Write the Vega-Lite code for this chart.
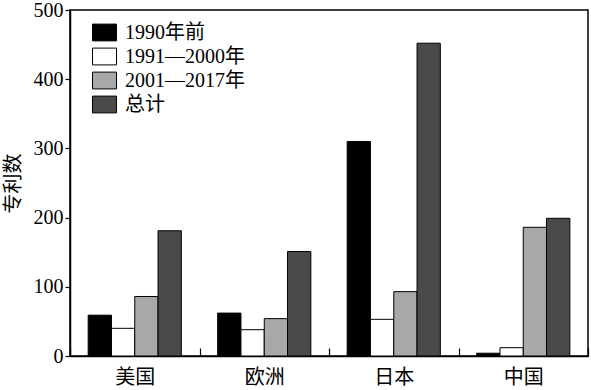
{
  "$schema": "https://vega.github.io/schema/vega-lite/v6.json",
  "autosize": {"type": "none"},
  "padding": {"left": 70, "top": 10, "right": 3, "bottom": 34},
  "width": 518,
  "height": 346,
  "background": "white",
  "config": {
    "view": {"stroke": "black", "strokeWidth": 1.5},
    "font": "Liberation Serif, Noto Sans CJK SC",
    "axis": {
      "labelFont": "Liberation Serif, Noto Sans CJK SC",
      "titleFont": "Liberation Serif, Noto Sans CJK SC",
      "labelColor": "black",
      "titleColor": "black",
      "domainColor": "black",
      "tickColor": "black",
      "domainWidth": 1.5,
      "tickWidth": 1.2,
      "grid": false
    }
  },
  "data": {
    "values": [
      {"region": "美国", "period": "1990年前", "count": 59},
      {"region": "美国", "period": "1991—2000年", "count": 40},
      {"region": "美国", "period": "2001—2017年", "count": 86},
      {"region": "美国", "period": "总计", "count": 181},
      {"region": "欧洲", "period": "1990年前", "count": 62},
      {"region": "欧洲", "period": "1991—2000年", "count": 38},
      {"region": "欧洲", "period": "2001—2017年", "count": 54},
      {"region": "欧洲", "period": "总计", "count": 151},
      {"region": "日本", "period": "1990年前", "count": 310},
      {"region": "日本", "period": "1991—2000年", "count": 53},
      {"region": "日本", "period": "2001—2017年", "count": 93},
      {"region": "日本", "period": "总计", "count": 452},
      {"region": "中国", "period": "1990年前", "count": 4},
      {"region": "中国", "period": "1991—2000年", "count": 12},
      {"region": "中国", "period": "2001—2017年", "count": 186},
      {"region": "中国", "period": "总计", "count": 199}
    ]
  },
  "mark": {"type": "bar", "stroke": "black", "strokeWidth": 1},
  "encoding": {
    "x": {
      "field": "region",
      "type": "nominal",
      "sort": ["美国", "欧洲", "日本", "中国"],
      "scale": {"paddingInner": 0, "paddingOuter": 0},
      "axis": {
        "title": null,
        "labelAngle": 0,
        "labelFontSize": 20,
        "tickBand": "extent",
        "tickSize": -8,
        "labelPadding": 19
      }
    },
    "xOffset": {
      "field": "period",
      "type": "nominal",
      "scale": {
        "domain": ["1990年前", "1991—2000年", "2001—2017年", "总计"],
        "paddingInner": 0,
        "paddingOuter": 0.78
      }
    },
    "y": {
      "field": "count",
      "type": "quantitative",
      "scale": {"domain": [0, 500], "nice": false},
      "axis": {
        "title": "专利数",
        "titleFontSize": 20,
        "titleFontWeight": "normal",
        "titlePadding": 10,
        "labelFontSize": 20,
        "values": [0, 100, 200, 300, 400, 500],
        "tickSize": 5,
        "labelPadding": 2
      }
    },
    "fill": {
      "field": "period",
      "type": "nominal",
      "scale": {
        "domain": ["1990年前", "1991—2000年", "2001—2017年", "总计"],
        "range": ["#000000", "#ffffff", "#a8a8a8", "#4a4a4a"]
      },
      "legend": {
        "title": null,
        "orient": "none",
        "legendX": 22,
        "legendY": 10,
        "symbolType": "M-1,-0.7L1,-0.7L1,0.7L-1,0.7Z",
        "symbolSize": 576,
        "symbolStrokeColor": "black",
        "symbolStrokeWidth": 1,
        "symbolOpacity": 1,
        "labelFont": "Liberation Serif, Noto Sans CJK SC",
        "labelFontSize": 20,
        "labelColor": "black",
        "labelOffset": 8,
        "labelLimit": 300,
        "rowPadding": 1
      }
    }
  }
}
